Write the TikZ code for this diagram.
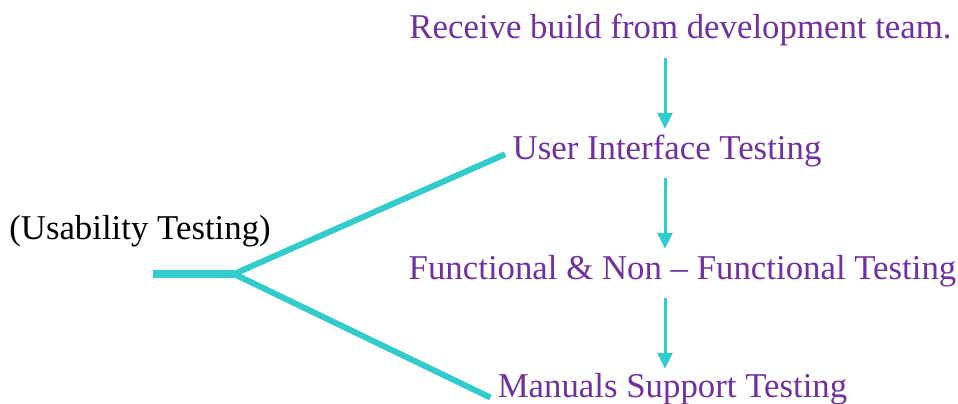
\documentclass[tikz,border=0pt]{standalone}
\usepackage{fontspec}
\setmainfont{Liberation Serif}
\usetikzlibrary{arrows.meta}
\definecolor{tpurple}{RGB}{112,48,160}
\definecolor{tcyan}{RGB}{51,204,204}
\begin{document}
\begin{tikzpicture}[x=1pt,y=-1pt,
  lbl/.style={anchor=base,inner sep=0pt,text height=24pt,text depth=8pt,
    font=\rmfamily\fontsize{34.8}{40}\selectfont,text=tpurple},
  flow/.style={draw=tcyan,line width=3pt,-{Triangle[width=15pt,length=16pt]},
    shorten <=11pt,shorten >=6pt},
  branch/.style={draw=tcyan,line width=6pt},
  stem/.style={draw=tcyan,line width=8pt}]
\useasboundingbox (0,0) rectangle (958,404);
\node[lbl] (recv) at (680.5,39) {Receive build from development team.};
\node[lbl] (ui) at (667,159) {User Interface Testing};
\node[lbl] (func) at (682.5,279) {Functional \& Non – Functional Testing};
\node[lbl] (man) at (672.5,397) {Manuals Support Testing};
\node[lbl,text=black] (usab) at (140,239) {(Usability Testing)};
\coordinate (ax) at (665,0);
\coordinate (tail) at (153,274);
\coordinate (hub) at (234,274);
\draw[flow] (recv.south -| ax) -- (ui.north -| ax);
\draw[flow] (ui.south -| ax) -- (func.north -| ax);
\draw[flow,shorten >=4pt] (func.south -| ax) -- (man.north -| ax);
\draw[stem] (tail) -- (hub);
\draw[branch,shorten >=8pt] (hub) -- (ui.west);
\draw[branch,shorten >=8pt] (hub) -- ([yshift=-4pt]man.base west);
\end{tikzpicture}
\end{document}
